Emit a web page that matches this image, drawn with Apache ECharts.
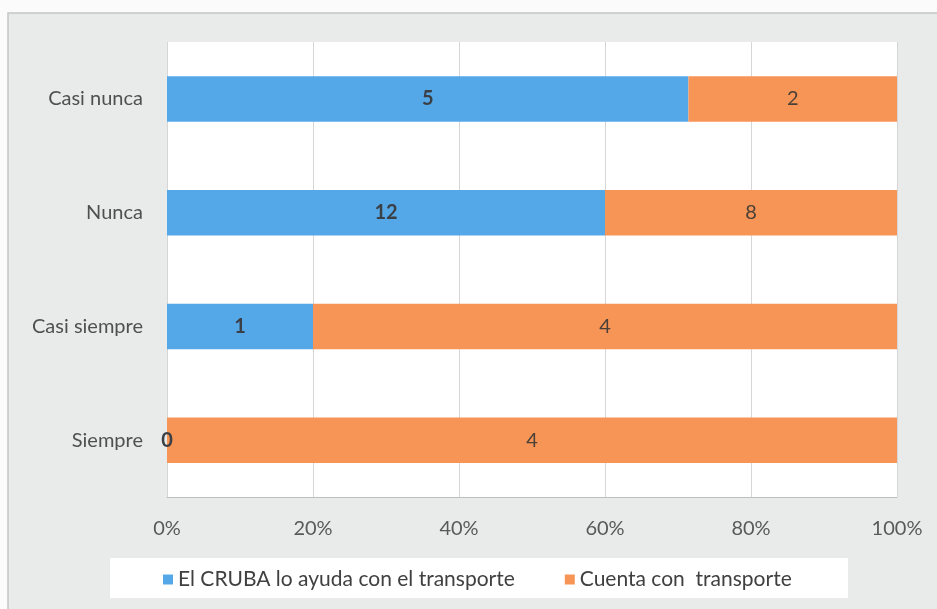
<!DOCTYPE html>
<html>
<head>
<meta charset="utf-8">
<script src="https://cdn.jsdelivr.net/npm/echarts@6/dist/echarts.min.js"></script>
<style>
  html, body { margin: 0; padding: 0; background: #fbfbfb; }
  #chart { width: 937px; height: 609px; }
</style>
</head>
<body>
<div id="chart"></div>
<script>
// Categories, bottom to top on the vertical axis
const categories = ['Siempre', 'Casi siempre', 'Nunca', 'Casi nunca'];
const seriesNames = ['El CRUBA lo ayuda con el transporte', 'Cuenta con  transporte'];
// Counts per category
const ayudaCounts = [0, 1, 12, 5];
const cuentaCounts = [4, 4, 8, 2];
const tickLabels = ['0%', '20%', '40%', '60%', '80%', '100%'];

const totals = categories.map((_, i) => ayudaCounts[i] + cuentaCounts[i]);
const share = (arr) => arr.map((v, i) => ({ value: v / totals[i] * 100, count: v }));

const FONT = 'Lato, "Open Sans", sans-serif';
const labelStyle = {
  show: true,
  position: 'inside',
  color: '#3b3f46',
  fontFamily: FONT,
  fontSize: 20,
  fontWeight: 'bold',
  formatter: (p) => String(p.data.count)
};

const chart = echarts.init(document.getElementById('chart'));
chart.setOption({
  animation: false,
  backgroundColor: '#fbfbfb',
  graphic: [
    {
      type: 'rect',
      z: -10,
      shape: { x: 8, y: 13, width: 940, height: 600 },
      style: { fill: '#e9ebeb', stroke: '#c4c6c6', lineWidth: 1.5 }
    },
    {
      type: 'rect',
      z: -5,
      shape: { x: 110, y: 558, width: 738, height: 40 },
      style: { fill: '#ffffff' }
    }
  ],
  grid: {
    left: 167, right: 40, top: 42, bottom: 112,
    show: true, backgroundColor: '#ffffff', borderWidth: 0
  },
  legend: {
    bottom: 14,
    left: 158,
    itemWidth: 10,
    itemHeight: 10,
    itemGap: 50,
    icon: 'rect',
    textStyle: { color: '#404040', fontFamily: FONT, fontSize: 21 },
    data: seriesNames
  },
  xAxis: {
    type: 'value',
    min: 0, max: 100, interval: 20,
    axisLine: { show: true, lineStyle: { color: '#bfbfbf' } },
    axisTick: { show: false },
    splitLine: { show: true, lineStyle: { color: '#d6d6d6' } },
    axisLabel: {
      color: '#595959', fontFamily: FONT, fontSize: 20, margin: 22,
      formatter: (v) => tickLabels[Math.round(v / 20)]
    }
  },
  yAxis: {
    type: 'category',
    data: categories,
    axisLine: { show: false },
    axisTick: { show: false },
    axisLabel: { color: '#505050', fontFamily: FONT, fontSize: 20, margin: 24 }
  },
  series: [
    {
      name: seriesNames[0],
      type: 'bar',
      stack: 'total',
      barWidth: '40%',
      itemStyle: { color: '#55a8e8' },
      label: labelStyle,
      data: share(ayudaCounts)
    },
    {
      name: seriesNames[1],
      type: 'bar',
      stack: 'total',
      barWidth: '40%',
      itemStyle: { color: '#f79556' },
      label: Object.assign({}, labelStyle, { fontWeight: 'normal', color: '#4a4038' }),
      data: share(cuentaCounts)
    }
  ]
});
</script>
</body>
</html>
